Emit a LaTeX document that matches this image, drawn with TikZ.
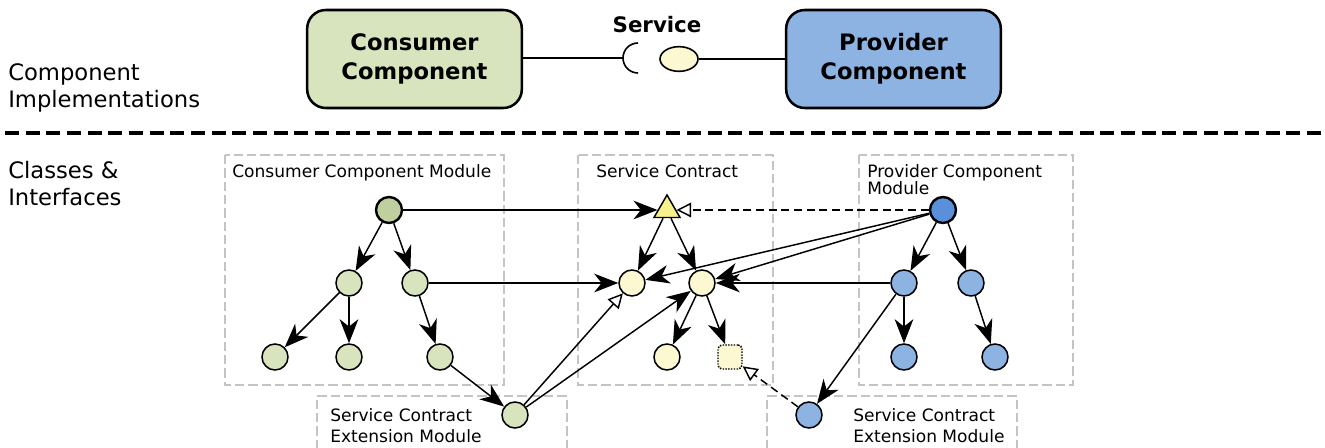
\documentclass[tikz,border=0pt]{standalone}
\usepackage{fontspec}
\setmainfont{DejaVu Sans}
\usetikzlibrary{arrows.meta,shapes.geometric}
\definecolor{cgreen}{HTML}{D7E4BD}
\definecolor{cgreenD}{HTML}{BFCFA0}
\definecolor{cblue}{HTML}{8DB3E2}
\definecolor{cblueD}{HTML}{5A8FDC}
\definecolor{cyel}{HTML}{FCF8D2}
\definecolor{cyelD}{HTML}{F7F08C}
\definecolor{modgray}{HTML}{C4C4C4}
\begin{document}
\begin{tikzpicture}[x=0.75pt,y=-0.75pt,
 comp/.style={draw, line width=1.9pt, rounded corners=14pt, minimum width=161pt, minimum height=73.5pt, font=\fontsize{17}{21.5}\selectfont\bfseries, align=center, inner sep=0pt},
 cls/.style={circle, draw, line width=1.15pt, minimum size=19.5pt, inner sep=0pt},
 rootcls/.style={cls, line width=1.8pt},
 module/.style={draw=modgray, line width=1.1pt, dash pattern=on 7pt off 3pt},
 modlabel/.style={font=\fontsize{12.8}{12.8}\selectfont, align=left, inner sep=0pt, anchor=north west},
 sidelabel/.style={font=\fontsize{17}{20.5}\selectfont, align=left, inner sep=0pt, anchor=north west},
 dep/.style={-{Stealth[length=18pt,width=14pt,inset=5.5pt]}, line width=1.1pt},
 real/.style={-{Triangle[open,length=11pt,width=11pt]}, line width=1.1pt},
 realdash/.style={real, dash pattern=on 6pt off 3.5pt},
]
\useasboundingbox (0,0) rectangle (1325,448);

% ---- top row
\node[sidelabel] (lblimpl) at (8,63) {Component\\Implementations};
\node[comp, fill=cgreen] (cons) at (414.5,59) {Consumer\\Component};
\node[comp, fill=cblue] (prov) at (893.5,59) {Provider\\Component};
\coordinate (sock) at (623,58);
\node[ellipse, draw, line width=1.2pt, fill=cyel, minimum width=28.5pt, minimum height=18.5pt, inner sep=0pt] (ball) at (679,59) {};
\node[font=\fontsize{16}{18}\selectfont\bfseries, anchor=base, inner sep=0pt] (svc) at (657,33) {Service};
\draw[line width=1.2pt] (cons.east |- sock) -- (sock);
\draw[line width=1.2pt] (638,43) arc[start angle=90, end angle=270, radius=11.25pt];
\draw[line width=1.2pt] (ball) -- (ball -| prov.west);

% ---- separator
\draw[line width=3pt, dash pattern=on 10.5pt off 5pt] (5,133) -- (1325,133);

\node[sidelabel] (lblcls) at (8,161) {Classes \&\\Interfaces};

% ---- modules
\draw[module] (225,155) rectangle (504,385);
\node[modlabel] (mcc) at (232,164) {Consumer Component Module};
\draw[module] (578,155) rectangle (773,385);
\node[modlabel] (msc) at (596,164) {Service Contract};
\draw[module] (859,155) rectangle (1073,385);
\node[modlabel] (mpc) at (867,164) {Provider Component\\Module};
\draw[module] (317,449) -- (317,396) -- (567,396) -- (567,449);
\node[modlabel, font=\fontsize{12.8}{15.8}\selectfont] (mle) at (330,408) {Service Contract\\Extension Module};
\draw[module] (767,449) -- (767,396) -- (1017,396) -- (1017,449);
\node[modlabel, font=\fontsize{12.8}{15.8}\selectfont] (mre) at (853,408) {Service Contract\\Extension Module};

% ---- consumer classes
\node[rootcls, fill=cgreenD] (C0) at (389,210) {};
\node[cls, fill=cgreen] (C1) at (349,283) {};
\node[cls, fill=cgreen] (C2) at (415,283) {};
\node[cls, fill=cgreen] (C3) at (275,357) {};
\node[cls, fill=cgreen] (C4) at (349,357) {};
\node[cls, fill=cgreen] (C5) at (440,357) {};
\node[cls, fill=cgreen] (CE) at (515,415) {};

% ---- service contract
\node[regular polygon, regular polygon sides=3, draw, line width=1.1pt, fill=cyelD, minimum size=22.5pt, inner sep=0pt] (T) at (667,210) {};
\node[cls, fill=cyel] (S1) at (632,283) {};
\node[cls, fill=cyel] (S2) at (702,283) {};
\node[cls, fill=cyel] (S3) at (667,357) {};
\node[draw, line width=1.1pt, densely dotted, rounded corners=3pt, fill=cyel, minimum size=18pt, inner sep=0pt] (S4) at (730,357) {};

% ---- provider classes
\node[rootcls, fill=cblueD] (P0) at (943,210) {};
\node[cls, fill=cblue] (P1) at (904,283) {};
\node[cls, fill=cblue] (P2) at (971,283) {};
\node[cls, fill=cblue] (P3) at (904,357) {};
\node[cls, fill=cblue] (P4) at (995,357) {};
\node[cls, fill=cblue] (PE) at (809,415) {};

% ---- edges
\draw[dep] (C0) -- (C1);
\draw[dep] (C0) -- (C2);
\draw[dep] (C1) -- (C3);
\draw[dep] (C1) -- (C4);
\draw[dep] (C2) -- (C5);
\draw[dep] (C5) -- (CE);
\draw[dep] (C0) -- (T);
\draw[dep] (C2) -- (S1);
\draw[real] (CE) -- (S1);
\draw[dep] (CE) -- (S2);

\draw[dep] (T) -- (S1);
\draw[dep] (T) -- (S2);
\draw[dep] (S2) -- (S3);
\draw[dep] (S2) -- (S4);

\draw[realdash] (P0) -- (T);
\draw[dep] (P0) -- (S1);
\draw[dep] (P0) -- (S2);
\draw[dep] (P1) -- (S2);
\draw[dep] (P0) -- (P1);
\draw[dep] (P0) -- (P2);
\draw[dep] (P1) -- (P3);
\draw[dep] (P2) -- (P4);
\draw[dep] (P1) -- (PE);
\draw[realdash] (PE) -- (S4);
\end{tikzpicture}
\end{document}
